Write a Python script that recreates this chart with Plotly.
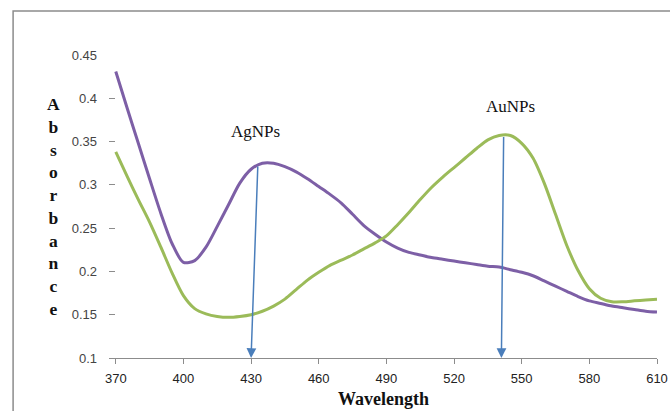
import plotly.graph_objects as go

wavelength = [370, 375, 380, 385, 390, 395, 400, 405, 410, 415, 420, 425, 430, 435, 440,
              445, 450, 455, 460, 465, 470, 475, 480, 485, 490, 495, 500, 505, 510, 515,
              520, 525, 530, 535, 540, 545, 550, 555, 560, 565, 570, 575, 580, 585, 590,
              595, 600, 605, 610]

agnps = [0.431, 0.389, 0.348, 0.307, 0.267, 0.232, 0.2105, 0.2125, 0.228, 0.252, 0.277,
         0.302, 0.318, 0.325, 0.325, 0.321, 0.315, 0.307, 0.298, 0.289, 0.279, 0.266,
         0.253, 0.243, 0.234, 0.227, 0.222, 0.219, 0.216, 0.214, 0.212, 0.210, 0.208,
         0.206, 0.205, 0.202, 0.199, 0.195, 0.189, 0.183, 0.177, 0.171, 0.166, 0.163,
         0.160, 0.158, 0.156, 0.154, 0.153]

aunps = [0.338, 0.310, 0.283, 0.257, 0.228, 0.198, 0.172, 0.157, 0.151, 0.148, 0.147,
         0.148, 0.150, 0.154, 0.160, 0.168, 0.179, 0.190, 0.199, 0.207, 0.213, 0.219,
         0.226, 0.233, 0.241, 0.254, 0.268, 0.283, 0.297, 0.309, 0.320, 0.331, 0.342,
         0.352, 0.357, 0.357, 0.348, 0.331, 0.302, 0.266, 0.230, 0.201, 0.180, 0.169,
         0.165, 0.165, 0.166, 0.167, 0.168]

x_ticks = [370, 400, 430, 460, 490, 520, 550, 580, 610]
y_ticks = [0.1, 0.15, 0.2, 0.25, 0.3, 0.35, 0.4, 0.45]
y_tick_text = ["0.1", "0.15", "0.2", "0.25", "0.3", "0.35", "0.4", "0.45"]

peak_names = ["AgNPs", "AuNPs"]
peak_top_wl = [433, 542]
peak_top_abs = [0.323, 0.357]
peak_base_wl = [430, 541]
label_wl = [432, 545]
label_abs = [0.362, 0.390]

fig = go.Figure()
fig.add_trace(go.Scatter(x=wavelength, y=agnps, mode="lines", name="AgNPs",
                         line=dict(color="#7D5FA6", width=3, shape="spline", smoothing=0.8)))
fig.add_trace(go.Scatter(x=wavelength, y=aunps, mode="lines", name="AuNPs",
                         line=dict(color="#9BBB59", width=3, shape="spline", smoothing=0.8)))

annotations = []
for name, tw, ta, bw, lw, la in zip(peak_names, peak_top_wl, peak_top_abs,
                                    peak_base_wl, label_wl, label_abs):
    annotations.append(dict(x=bw, y=0.1, ax=tw, ay=ta, xref="x", yref="y",
                            axref="x", ayref="y", text="", showarrow=True,
                            arrowhead=2, arrowsize=1.3, arrowwidth=1.5,
                            arrowcolor="#4A7EBB"))
    annotations.append(dict(x=lw, y=la, xref="x", yref="y", text=name,
                            showarrow=False,
                            font=dict(family="Liberation Serif", size=17, color="#111")))

annotations.append(dict(x=-0.117, y=0.5, xref="paper", yref="paper",
                        text="<b>" + "<br>".join(list("Absorbance")) + "</b>",
                        showarrow=False, align="center",
                        font=dict(family="Liberation Serif", size=17.5, color="#111")))
annotations.append(dict(x=0.5, y=-0.135, xref="paper", yref="paper",
                        text="<b>Wavelength</b>", showarrow=False, yanchor="middle",
                        borderpad=0,
                        font=dict(family="Liberation Serif", size=18, color="#111")))

fig.update_layout(
    width=670, height=411,
    margin=dict(l=109, r=13, t=55, b=53),
    paper_bgcolor="white", plot_bgcolor="white",
    showlegend=False,
    annotations=annotations,
    shapes=[dict(type="rect", xref="paper", yref="paper",
                 x0=-0.175, x1=1.05, y0=-0.25, y1=1.145,
                 line=dict(color="#8C8C8C", width=1.5), fillcolor="rgba(0,0,0,0)",
                 layer="below")],
    xaxis=dict(range=[367, 610], tickvals=x_ticks, showgrid=False, zeroline=False,
               showline=True, linecolor="#8C8C8C", linewidth=1,
               ticks="outside", ticklen=5, tickcolor="#8C8C8C",
               ticklabelstandoff=3, automargin=False,
               tickfont=dict(family="Liberation Sans", size=13, color="#222")),
    yaxis=dict(range=[0.1, 0.45], tickvals=y_ticks, ticktext=y_tick_text,
               showgrid=False, zeroline=False, showline=False,
               ticks="inside", ticklen=6, tickcolor="#8C8C8C",
               ticklabelstandoff=11, automargin=False,
               tickfont=dict(family="Liberation Sans", size=13, color="#444")),
)

fig.write_html("out.html", config={"displayModeBar": False},
               post_script="document.body.style.margin='0';")
